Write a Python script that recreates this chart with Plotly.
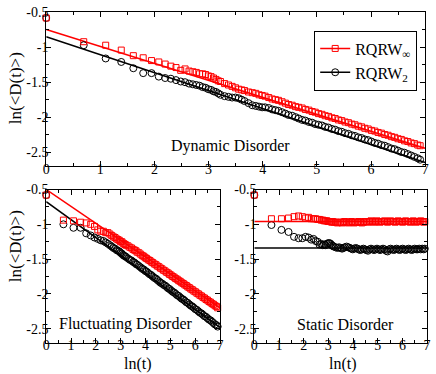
import numpy as np
import plotly.graph_objects as go

# time steps t (x axis is ln(t))
t_steps = [1, 2, 3, 4, 5, 6, 7, 8, 9, 10, 11, 12, 13, 14, 15, 16, 17, 18, 19, 20, 21, 22, 23, 24, 25,
           27, 29, 31, 33, 35, 37, 39, 42, 45, 48, 51, 54, 57, 61, 65, 69, 73, 78, 83, 88,
           94, 100, 106, 113, 120, 128, 136, 144, 153, 163, 173, 184, 196, 208, 221, 235,
           250, 266, 283, 300, 319, 339, 360, 383, 407, 433, 460, 489, 520, 553, 588, 625,
           664, 706, 750, 797, 847, 900, 957, 1000]

# dynamic disorder
dyn_inf = [-0.58, -0.92, -0.97, -1.04, -1.12, -1.15, -1.19, -1.21, -1.24, -1.27,
           -1.29, -1.33, -1.31, -1.34, -1.35, -1.36, -1.38, -1.38, -1.39, -1.41,
           -1.42, -1.44, -1.46, -1.48, -1.49,
           -1.52, -1.54, -1.56, -1.58, -1.60, -1.61, -1.62, -1.64, -1.65, -1.66,
           -1.68, -1.69, -1.70, -1.72, -1.74, -1.75, -1.76, -1.78, -1.80, -1.82,
           -1.83, -1.85, -1.86, -1.87, -1.89, -1.90, -1.92, -1.93, -1.95, -1.96,
           -1.98, -1.99, -2.01, -2.02, -2.04, -2.05, -2.07, -2.08, -2.10, -2.11,
           -2.13, -2.14, -2.16, -2.17, -2.19, -2.20, -2.22, -2.23, -2.25, -2.26,
           -2.28, -2.29, -2.31, -2.32, -2.34, -2.35, -2.37, -2.38, -2.40, -2.41]
dyn_2 = [-0.58, -0.97, -1.16, -1.21, -1.30, -1.37, -1.37, -1.42, -1.44, -1.45,
         -1.47, -1.49, -1.50, -1.52, -1.53, -1.54, -1.55, -1.57, -1.58, -1.60,
         -1.61, -1.63, -1.64, -1.66, -1.68,
         -1.70, -1.71, -1.72, -1.72, -1.73, -1.75, -1.77, -1.80, -1.83, -1.84,
         -1.85, -1.86, -1.86, -1.87, -1.89, -1.90, -1.91, -1.93, -1.95, -1.97,
         -1.98, -2.00, -2.02, -2.04, -2.05, -2.07, -2.08, -2.10, -2.11, -2.12,
         -2.14, -2.15, -2.17, -2.18, -2.20, -2.21, -2.23, -2.24, -2.26, -2.27,
         -2.29, -2.30, -2.32, -2.33, -2.35, -2.37, -2.38, -2.40, -2.41, -2.43,
         -2.45, -2.46, -2.48, -2.50, -2.51, -2.53, -2.55, -2.57, -2.59, -2.61]

# fluctuating disorder
fl_inf = [-0.58, -0.94, -0.95, -0.97, -0.98, -1.00, -1.03, -1.08, -1.10, -1.10,
          -1.12, -1.12, -1.14, -1.16, -1.18, -1.19, -1.21, -1.22, -1.23, -1.25,
          -1.25, -1.27, -1.28, -1.29, -1.30,
          -1.31, -1.33, -1.34, -1.36, -1.37, -1.38, -1.40, -1.41, -1.43, -1.45,
          -1.46, -1.48, -1.49, -1.51, -1.52, -1.54, -1.55, -1.57, -1.58, -1.60,
          -1.61, -1.63, -1.64, -1.66, -1.67, -1.69, -1.70, -1.72, -1.73, -1.75,
          -1.76, -1.78, -1.79, -1.81, -1.82, -1.84, -1.85, -1.87, -1.88, -1.90,
          -1.91, -1.93, -1.94, -1.96, -1.97, -1.99, -2.00, -2.02, -2.03, -2.05,
          -2.06, -2.08, -2.09, -2.11, -2.12, -2.14, -2.15, -2.17, -2.18, -2.20]
fl_2 = [-0.58, -1.00, -1.05, -1.05, -1.13, -1.16, -1.19, -1.21, -1.23, -1.24,
        -1.26, -1.28, -1.30, -1.32, -1.34, -1.35, -1.37, -1.38, -1.39, -1.41,
        -1.42, -1.44, -1.45, -1.46, -1.47,
        -1.49, -1.51, -1.52, -1.54, -1.55, -1.57, -1.58, -1.60, -1.62, -1.64,
        -1.65, -1.67, -1.68, -1.70, -1.72, -1.73, -1.75, -1.77, -1.78, -1.80,
        -1.82, -1.84, -1.85, -1.87, -1.88, -1.90, -1.92, -1.93, -1.95, -1.97,
        -1.98, -2.00, -2.02, -2.03, -2.05, -2.07, -2.08, -2.10, -2.12, -2.13,
        -2.15, -2.17, -2.18, -2.20, -2.22, -2.23, -2.25, -2.27, -2.28, -2.30,
        -2.32, -2.33, -2.35, -2.37, -2.38, -2.40, -2.42, -2.44, -2.45, -2.47]

# static disorder
st_inf = [-0.58, -0.92, -0.92, -0.91, -0.89, -0.88, -0.89, -0.91, -0.90, -0.92,
          -0.92, -0.92, -0.93, -0.93, -0.94, -0.94, -0.95, -0.95, -0.95, -0.96,
          -0.96, -0.96, -0.97, -0.96, -0.97,
          -0.97, -0.98, -0.97, -0.97, -0.98, -0.97, -0.96, -0.97, -0.98, -0.97,
          -0.96, -0.97, -0.98, -0.97, -0.97, -0.96, -0.97, -0.98, -0.97, -0.96,
          -0.96, -0.97, -0.96, -0.95, -0.96, -0.97, -0.96, -0.95, -0.96, -0.97,
          -0.96, -0.96, -0.95, -0.96, -0.97, -0.96, -0.95, -0.96, -0.96, -0.97,
          -0.96, -0.95, -0.96, -0.96, -0.97, -0.96, -0.95, -0.96, -0.96, -0.97,
          -0.96, -0.95, -0.96, -0.97, -0.96, -0.96, -0.95, -0.96, -0.97, -0.96]
st_2 = [-0.58, -1.01, -1.08, -1.11, -1.18, -1.20, -1.20, -1.18, -1.19, -1.22,
        -1.21, -1.24, -1.25, -1.29, -1.28, -1.30, -1.29, -1.30, -1.28, -1.27,
        -1.27, -1.28, -1.30, -1.31, -1.32,
        -1.33, -1.34, -1.33, -1.34, -1.35, -1.34, -1.33, -1.32, -1.33, -1.34,
        -1.35, -1.36, -1.35, -1.34, -1.35, -1.36, -1.37, -1.36, -1.35, -1.36,
        -1.37, -1.38, -1.36, -1.35, -1.36, -1.37, -1.36, -1.35, -1.36, -1.37,
        -1.36, -1.35, -1.36, -1.38, -1.39, -1.36, -1.35, -1.36, -1.37, -1.36,
        -1.35, -1.36, -1.37, -1.36, -1.35, -1.36, -1.37, -1.36, -1.35, -1.36,
        -1.37, -1.36, -1.35, -1.36, -1.36, -1.35, -1.36, -1.35, -1.36, -1.35]

# fitted straight lines (end points at ln(t)=0 and 7)
fit_x = [0, 7]
dyn_inf_fit = [-0.745, -2.446]
dyn_2_fit = [-0.85, -2.65]
fl_inf_fit = [-0.50, -2.20]
fl_2_fit = [-0.675, -2.48]
st_inf_fit = [-0.96, -0.96]
st_2_fit = [-1.34, -1.34]

ln_t = np.log(t_steps)

RED = "#ff0000"
BLACK = "#000000"
FONT = "Liberation Serif, Times New Roman, serif"
W, H = 436, 374

panels = [
    ("x", "y", dyn_inf, dyn_2, dyn_inf_fit, dyn_2_fit),
    ("x2", "y2", fl_inf, fl_2, fl_inf_fit, fl_2_fit),
    ("x3", "y3", st_inf, st_2, st_inf_fit, st_2_fit),
]

fig = go.Figure()
for xa, ya, s_inf, s_2, f_inf, f_2 in panels:
    fig.add_trace(go.Scatter(x=fit_x, y=f_inf, mode="lines", xaxis=xa, yaxis=ya,
                             line=dict(color=RED, width=1.5), showlegend=False))
    fig.add_trace(go.Scatter(x=fit_x, y=f_2, mode="lines", xaxis=xa, yaxis=ya,
                             line=dict(color=BLACK, width=1.5), showlegend=False))
    fig.add_trace(go.Scatter(x=ln_t, y=s_2, mode="markers", xaxis=xa, yaxis=ya, cliponaxis=False,
                             marker=dict(symbol="circle-open", size=7, color=BLACK, line=dict(width=1)),
                             showlegend=False))
    fig.add_trace(go.Scatter(x=ln_t, y=s_inf, mode="markers", xaxis=xa, yaxis=ya, cliponaxis=False,
                             marker=dict(symbol="square-open", size=6, color=RED, line=dict(width=1)),
                             showlegend=False))

# legend entries
fig.add_trace(go.Scatter(x=[None], y=[None], mode="lines+markers", name="RQRW<sub>∞</sub>",
                         line=dict(color=RED, width=1.5),
                         marker=dict(symbol="square-open", size=6, color=RED)))
fig.add_trace(go.Scatter(x=[None], y=[None], mode="lines+markers", name="RQRW<sub>2</sub>",
                         line=dict(color=BLACK, width=1.5),
                         marker=dict(symbol="circle-open", size=7, color=BLACK)))


def px_x(a, b):
    return [a / W, b / W]


def px_y(top, bottom):
    return [1 - bottom / H, 1 - top / H]


tick_font = dict(family=FONT, size=14, color="black")


def x_axis(domain, anchor):
    return dict(domain=domain, anchor=anchor, range=[0, 7], dtick=1, ticks="inside", ticklen=5,
                tickcolor="black", showline=True, linecolor="black", linewidth=1, mirror="allticks",
                showgrid=False, zeroline=False, tickfont=tick_font, ticklabelstandoff=-10,
                minor=dict(dtick=0.5, ticks="inside", ticklen=3, tickcolor="black", showgrid=False))


def y_axis(domain, anchor):
    return dict(domain=domain, anchor=anchor, range=[-2.7, -0.5], tickvals=[-0.5, -1, -1.5, -2, -2.5],
                ticktext=["-0.5", "-1", "-1.5", "-2", "-2.5"], ticks="inside", ticklen=5,
                tickcolor="black", showline=True, linecolor="black", linewidth=1, mirror="allticks",
                showgrid=False, zeroline=False, tickfont=tick_font, ticklabelstandoff=-6,
                minor=dict(tickvals=[-0.75, -1.25, -1.75, -2.25],
                           ticks="inside", ticklen=3, tickcolor="black", showgrid=False))


title_font = dict(family=FONT, size=17, color="black")
label_font = dict(family=FONT, size=16, color="black")


def label(text, x, y, font, angle=0):
    return dict(text=text, x=x / W, y=1 - y / H, xref="paper", yref="paper",
                xanchor="center", yanchor="middle", showarrow=False, textangle=angle, font=font)


fig.update_layout(
    width=W, height=H,
    margin=dict(l=0, r=0, t=0, b=0),
    font=dict(family=FONT, color="black"),
    paper_bgcolor="white", plot_bgcolor="white",
    xaxis=x_axis(px_x(43, 429), "y"),
    yaxis=y_axis(px_y(5.5, 162), "x"),
    xaxis2=x_axis(px_x(43, 220), "y2"),
    yaxis2=y_axis(px_y(186, 342), "x2"),
    xaxis3=x_axis(px_x(255, 431), "y3"),
    yaxis3=y_axis(px_y(186, 342), "x3"),
    legend=dict(x=316 / W, y=1 - 24 / H, xanchor="left", yanchor="top", itemwidth=30,
                bgcolor="white", bordercolor="black", borderwidth=1,
                font=dict(family=FONT, size=16, color="black"), tracegroupgap=0),
    annotations=[
        label("Dynamic Disorder", 231, 142, label_font),
        label("Fluctuating Disorder", 124, 323, label_font),
        label("Static Disorder", 348, 324, label_font),
        label("ln(&lt;D(t)&gt;)", 12, 83, title_font, -90),
        label("ln(&lt;D(t)&gt;)", 12, 244, title_font, -90),
        label("ln(t)", 137, 364, dict(family=FONT, size=16, color="black")),
        label("ln(t)", 345, 364, dict(family=FONT, size=16, color="black")),
    ],
)

# the page's default body margin would shift the figure; remove it
fig.write_html("out.html", config={"displayModeBar": False},
               post_script="document.body.style.margin='0';")
